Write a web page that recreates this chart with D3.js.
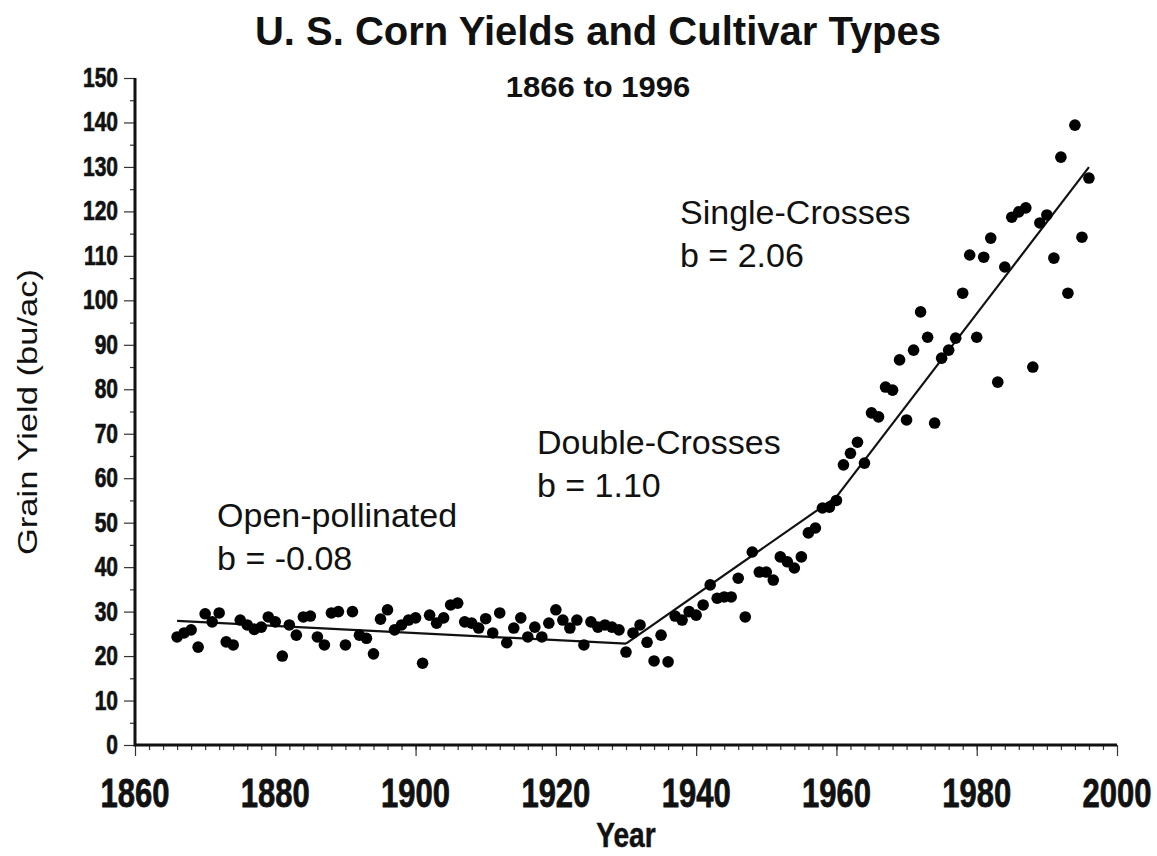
<!DOCTYPE html>
<html>
<head>
<meta charset="utf-8">
<script src="https://cdn.jsdelivr.net/npm/d3@7"></script>
<style>
  body { margin: 0; background: #fff; }
  text { font-family: 'Liberation Sans', Arial, sans-serif; fill: #111; }
</style>
</head>
<body>
<svg id="viz"></svg>
<script>
// yearly US corn yield (bu/ac), 1866..1996
const firstYear = 1866
const yields = [
  24.3, 25.2, 25.9, 22.0, 29.5, 27.7, 29.7, 23.2, 22.5, 28.1,
  27.0, 26.0, 26.5, 28.8, 27.7, 20.0, 27.0, 24.7, 28.8, 29.0,
  24.3, 22.5, 29.7, 30.0, 22.5, 30.0, 24.7, 24.0, 20.5, 28.3,
  30.4, 25.9, 27.0, 28.1, 28.6, 18.4, 29.2, 27.4, 28.6, 31.5,
  31.9, 27.7, 27.4, 26.3, 28.4, 25.2, 29.7, 23.0, 26.3, 28.6,
  24.3, 26.5, 24.3, 27.4, 30.4, 28.1, 26.3, 28.1, 22.5, 27.7,
  26.5, 27.0, 26.5, 25.9, 20.9, 25.2, 27.0, 23.1, 18.9, 24.7,
  18.7, 29.0, 28.1, 30.0, 29.2, 31.5, 36.0, 33.0, 33.3, 33.3,
  37.5, 28.8, 43.4, 38.9, 38.9, 37.1, 42.3, 41.2, 39.8, 42.3,
  47.7, 48.8, 53.3, 53.5, 55.0, 63.0, 65.6, 68.1, 63.4, 74.7,
  73.8, 80.5, 79.8, 86.6, 73.1, 88.8, 97.4, 91.7, 72.4, 87.0,
  88.8, 91.5, 101.6, 110.2, 91.7, 109.7, 114.0, 81.6, 107.5, 118.7,
  119.9, 120.8, 85.0, 117.4, 119.2, 109.5, 132.2, 101.6, 139.4, 114.2,
  127.5
]

// fitted trend per cultivar period
const fitNames = ['Open-pollinated', 'Double-Crosses', 'Single-Crosses']
const fitStart = [1866, 1930, 1960]
const fitEnd = [1930, 1960, 1996]
const fitStartValue = [27.9, 22.8, 55.8]
const fitSlope = [-0.08, 1.10, 2.06]

const xTicks = [1860, 1880, 1900, 1920, 1940, 1960, 1980, 2000]
const yTicks = [0, 10, 20, 30, 40, 50, 60, 70, 80, 90, 100, 110, 120, 130, 140, 150]

const width = 1157
const height = 856
const margin = { top: 78, left: 135, right: 40, bottom: 111 }

const data = yields.map((v, i) => ({ year: firstYear + i, value: v }))

const svg = d3.select('#viz').attr('width', width).attr('height', height)

const x = d3.scaleLinear().domain([1860, 2000]).range([margin.left, width - margin.right])
const y = d3.scaleLinear().domain([0, 150]).range([height - margin.bottom, margin.top])

// text helper, some labels in the original are stretched tall
function label(g, str, px, py, size, opts) {
  const o = opts || {}
  const t = g.append('text')
    .attr('transform', `translate(${px},${py}) ${o.rotate ? 'rotate(-90)' : ''} scale(${o.sx || 1},${o.sy || 1})`)
    .attr('text-anchor', o.anchor || 'start')
    .attr('font-size', size)
    .attr('font-weight', o.bold ? 'bold' : 'normal')
    .text(str)
  if (o.heavy) t.attr('stroke', '#111').attr('stroke-width', o.heavy)
  return t
}

// axes
const xAxis = svg.append('g').attr('transform', `translate(0,${y(0)})`)
xAxis.call(d3.axisBottom(x).tickValues(d3.range(1862, 2000, 2)).tickSize(5).tickFormat(''))
xAxis.append('g').call(d3.axisBottom(x).tickValues(xTicks).tickSize(11).tickFormat(''))
xAxis.selectAll('.domain').remove()
xAxis.selectAll('line').attr('stroke', '#333').attr('stroke-width', 1.2)

const yAxis = svg.append('g').attr('transform', `translate(${x(1860)},0)`)
yAxis.call(d3.axisLeft(y).tickValues(d3.range(5, 150, 10)).tickSize(5).tickFormat(''))
yAxis.append('g').call(d3.axisLeft(y).tickValues(yTicks).tickSize(11).tickFormat(''))
yAxis.selectAll('.domain').remove()
yAxis.selectAll('line').attr('stroke', '#333').attr('stroke-width', 1.2)

svg.append('path')
  .attr('d', `M${x(1860)},${y(150)}V${y(0)}H${x(2000)}`)
  .attr('fill', 'none')
  .attr('stroke', '#111')
  .attr('stroke-width', 3)

// tick labels
xTicks.forEach((t) => {
  label(svg, t, x(t), 807, 31, { anchor: 'middle', bold: true, sy: 1.3, heavy: 0.6 })
})
yTicks.forEach((t) => {
  label(svg, t, 118, y(t) + 9, 20, { anchor: 'end', bold: true, sy: 1.38, sx: 1.05, heavy: 0.5 })
})

label(svg, 'Year', x(1930), 847, 29, { anchor: 'middle', bold: true, sy: 1.2, sx: 0.97, heavy: 0.4 })
label(svg, 'Grain Yield (bu/ac)', 37, 412, 27, { anchor: 'middle', rotate: true, sx: 1.28 })

// titles
label(svg, 'U. S. Corn Yields and Cultivar Types', 598, 45, 40, { anchor: 'middle', bold: true })
label(svg, '1866 to 1996', 598, 97, 31, { anchor: 'middle', bold: true, sy: 0.95 })

// regression segments
const fits = fitNames.map((n, i) => ({
  name: n,
  x0: fitStart[i],
  x1: fitEnd[i],
  y0: fitStartValue[i],
  y1: fitStartValue[i] + fitSlope[i] * (fitEnd[i] - fitStart[i]),
  b: fitSlope[i]
}))

svg.append('g')
  .selectAll('line')
  .data(fits)
  .join('line')
  .attr('x1', (d) => x(d.x0))
  .attr('x2', (d) => x(d.x1))
  .attr('y1', (d) => y(d.y0))
  .attr('y2', (d) => y(d.y1))
  .attr('stroke', '#111')
  .attr('stroke-width', 2.2)

// points
svg.append('g')
  .selectAll('circle')
  .data(data)
  .join('circle')
  .attr('cx', (d) => x(d.year))
  .attr('cy', (d) => y(d.value))
  .attr('r', 5.8)
  .attr('fill', '#000')

// period annotations (year, value of first baseline)
const annoPos = [[1871.7, 49.0], [1917.3, 65.4], [1937.7, 117.2]]
fits.forEach((f, i) => {
  const ax = x(annoPos[i][0])
  const ay = y(annoPos[i][1])
  label(svg, f.name, ax, ay, 34)
  label(svg, 'b = ' + f.b.toFixed(2), ax, ay + 43, 34)
})
</script>
</body>
</html>
